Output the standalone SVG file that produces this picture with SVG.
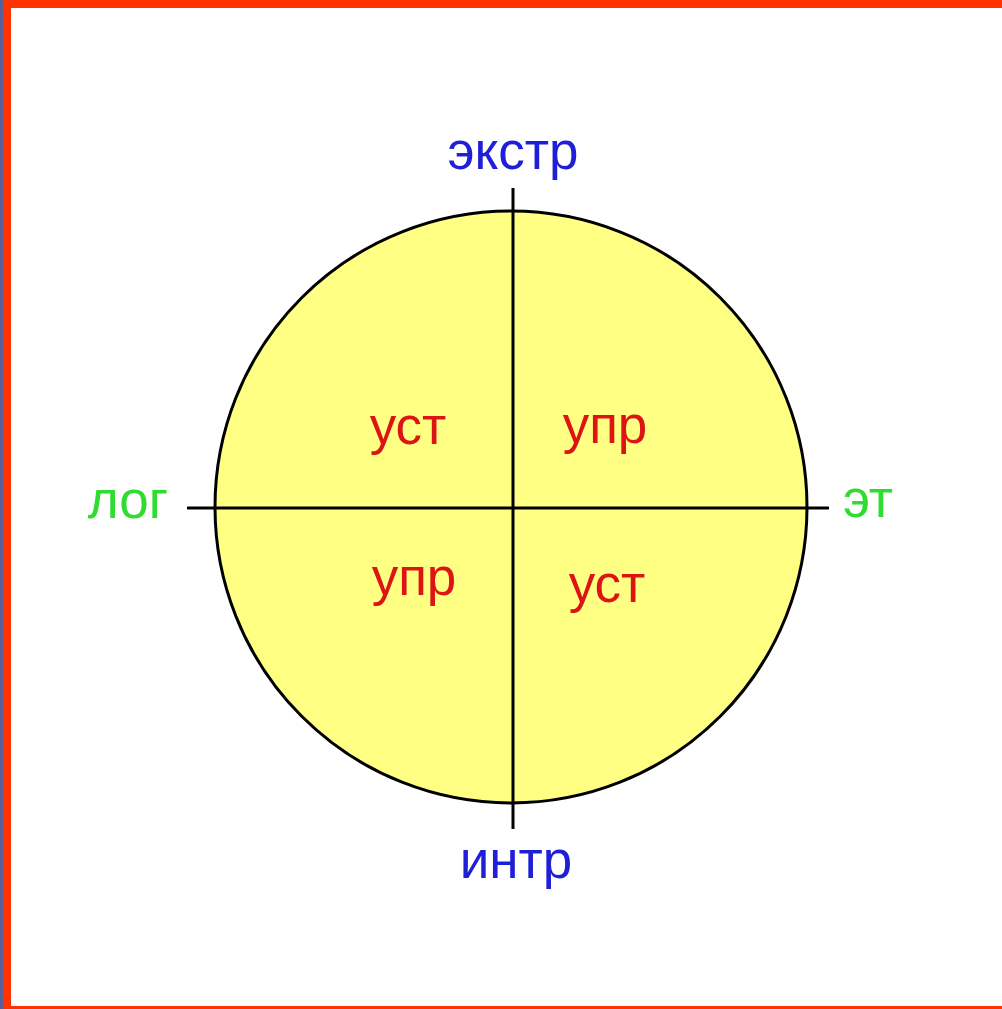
<svg xmlns="http://www.w3.org/2000/svg" width="1002" height="1009" viewBox="0 0 1002 1009">
  <style>
    .lbl { font-family: "Liberation Sans", Arial, sans-serif; font-size: 53px; text-anchor: middle; }
    .axis-v { fill: #1f1fd8; }
    .axis-h { fill: #2fdc2f; }
    .quad { fill: #dc1414; }
    .ax { stroke: #000; stroke-width: 3; fill: none; }
  </style>

  <!-- page background and frame -->
  <rect x="0" y="0" width="1002" height="1009" fill="#ffffff"/>
  <rect x="0" y="0" width="3" height="1009" fill="#5b5f98"/>
  <rect x="3" y="0" width="8" height="1009" fill="#ff3300"/>
  <rect x="3" y="0" width="999" height="8" fill="#ff3300"/>
  <rect x="3" y="1006" width="999" height="3" fill="#ff3300"/>

  <!-- disc -->
  <g id="disc">
    <circle cx="511" cy="507" r="296" fill="#ffff84" stroke="#000" stroke-width="3"/>
  </g>

  <!-- axes -->
  <g id="connectors">
    <line class="ax" x1="513" y1="188" x2="513" y2="829"/>
    <line class="ax" x1="187" y1="508" x2="829" y2="508"/>
  </g>

  <!-- axis end labels -->
  <g id="label-top"><text class="lbl axis-v" x="513" y="169">экстр</text></g>
  <g id="label-bottom"><text class="lbl axis-v" x="516" y="878">интр</text></g>
  <g id="label-left"><text class="lbl axis-h" x="128" y="518">лог</text></g>
  <g id="label-right"><text class="lbl axis-h" x="868" y="517">эт</text></g>

  <!-- quadrant labels -->
  <g id="q-top-left"><text class="lbl quad" x="408" y="444">уст</text></g>
  <g id="q-top-right"><text class="lbl quad" x="605" y="443">упр</text></g>
  <g id="q-bottom-left"><text class="lbl quad" x="414" y="595">упр</text></g>
  <g id="q-bottom-right"><text class="lbl quad" x="607" y="602">уст</text></g>
</svg>
